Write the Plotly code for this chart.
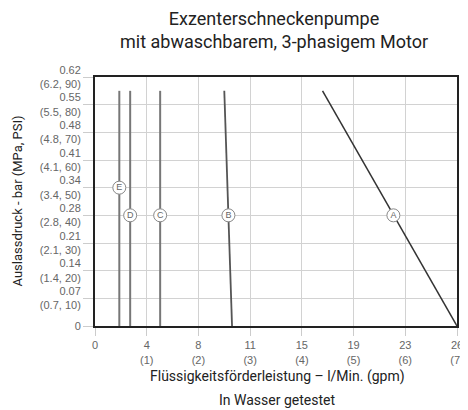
import plotly.graph_objects as go

# Data (x in gpm, y in PSI)
curve_names = ["A", "B", "C", "D", "E"]
curve_x_top = [4.40, 2.50, 1.26, 0.68, 0.47]
curve_x_bottom = [7.00, 2.65, 1.26, 0.68, 0.47]
curve_y_top = [85, 85, 85, 85, 85]
curve_y_bottom = [0, 0, 0, 0, 0]
label_x = [5.77, 2.58, 1.26, 0.68, 0.47]
label_y = [40, 40, 40, 40, 50]

x_tickvals = [0, 1, 2, 3, 4, 5, 6, 7]
x_ticktext = ["0", "4<br>(1)", "8<br>(2)", "11<br>(3)", "15<br>(4)", "19<br>(5)", "23<br>(6)", "26<br>(7)"]
y_tickvals = [0, 10, 20, 30, 40, 50, 60, 70, 80, 90]
y_ticktext = ["0", "0.07<br>(0.7, 10)", "0.14<br>(1.4, 20)", "0.21<br>(2.1, 30)", "0.28<br>(2.8, 40)",
              "0.34<br>(3.4, 50)", "0.41<br>(4.1, 60)", "0.48<br>(4.8, 70)", "0.55<br>(5.5, 80)",
              "0.62<br>(6.2, 90)"]

line_colors = ["#333333", "#555555", "#777777", "#777777", "#777777"]
line_widths = [1.5, 1.8, 2, 2, 2]

fig = go.Figure()
for i, n in enumerate(curve_names):
    fig.add_trace(go.Scatter(
        x=[curve_x_top[i], curve_x_bottom[i]], y=[curve_y_top[i], curve_y_bottom[i]],
        mode="lines", line=dict(color=line_colors[i], width=line_widths[i]),
        showlegend=False))

fig.add_trace(go.Scatter(
    x=label_x, y=label_y, mode="markers+text", text=curve_names,
    textposition="middle center",
    textfont=dict(family="Liberation Sans", size=9, color="#666666"),
    marker=dict(symbol="circle", size=13, color="white", line=dict(color="#888888", width=1)),
    showlegend=False))

# the page body has an 8px default margin, so the figure sits 8px right and down
W, H = 460, 402
L, R, T, B = 87, 11, 69, 84
PH = H - T - B
PW = W - L - R

font_main = "Roboto"
fig.update_layout(
    width=W, height=H,
    margin=dict(l=L, r=R, t=T, b=B, autoexpand=False),
    paper_bgcolor="#ffffff", plot_bgcolor="rgba(0,0,0,0)",
    xaxis=dict(range=[0, 7], tickvals=x_tickvals, ticktext=x_ticktext,
               showgrid=True, gridcolor="#d2d2d2", gridwidth=1,
               ticks="outside", ticklen=8, tickcolor="#cccccc",
               showline=True, linecolor="#222222", linewidth=2, mirror=True,
               zeroline=False,
               tickfont=dict(family="Liberation Sans", size=11, color="#666666")),
    yaxis=dict(range=[0, 90], tickvals=y_tickvals, ticktext=y_ticktext,
               showgrid=True, gridcolor="#d2d2d2", gridwidth=1,
               ticks="outside", ticklen=10, tickcolor="#cccccc",
               showline=True, linecolor="#222222", linewidth=2, mirror=True,
               zeroline=False,
               tickfont=dict(family="Liberation Sans", size=11, color="#666666")),
    annotations=[
        dict(text="Exzenterschneckenpumpe<br>mit abwaschbarem, 3-phasigem Motor",
             xref="paper", yref="paper", x=(274 - 8 - L) / PW, y=1 + (T - 22.5) / PH,
             xanchor="center", yanchor="middle",
             showarrow=False, font=dict(family=font_main, size=18, color="#222222")),
        dict(text="Flüssigkeitsförderleistung – l/Min. (gpm)",
             xref="paper", yref="paper", x=(277 - 8 - L) / PW, y=-(369 - (H - B)) / PH,
             xanchor="center", yanchor="middle",
             showarrow=False, font=dict(family=font_main, size=14, color="#222222")),
        dict(text="In Wasser getestet",
             xref="paper", yref="paper", x=(277 - 8 - L) / PW, y=-(392 - (H - B)) / PH,
             xanchor="center", yanchor="middle",
             showarrow=False, font=dict(family=font_main, size=14, color="#222222")),
        dict(text="Auslassdruck - bar (MPa, PSI)", textangle=-90,
             xref="paper", yref="paper", x=(9 - L) / PW, y=0.5, xanchor="center", yanchor="middle",
             showarrow=False, font=dict(family=font_main, size=13, color="#222222")),
    ],
)

fig.write_html("out.html")
